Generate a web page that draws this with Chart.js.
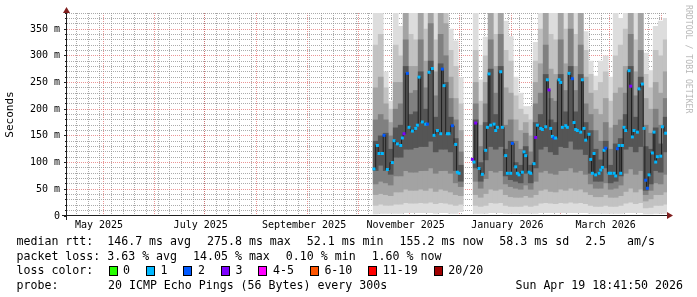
<!DOCTYPE html>
<html>
<head>
<meta charset="utf-8">
<script src="https://cdn.jsdelivr.net/npm/chart.js@4.4.1/dist/chart.umd.min.js"></script>
<style>
  html, body { margin: 0; padding: 0; background: #fff; }
  #wrap { position: relative; width: 697px; height: 297px; overflow: hidden; }
  #chart { position: absolute; left: 0; top: 0; }
  .txt { position: absolute; font-family: 'DejaVu Sans Mono', monospace; font-size: 11.6px; line-height: 14px; white-space: pre; color: #000; }
  .box { position: absolute; width: 7px; height: 8px; border: 1px solid #000; }
  #mark { position: absolute; left: 694px; top: 5px; transform: rotate(90deg); transform-origin: 0 0;
          font-family: 'DejaVu Sans Mono', monospace; font-size: 8.2px; line-height: 10px; color: #b8b8b8; white-space: pre; }
</style>
</head>
<body>
<div id="wrap">
  <canvas id="chart" width="697" height="297"></canvas>
  <div id="legend"></div>
  <div id="mark">RRDTOOL / TOBI OETIKER</div>
</div>
<script>
// graph window: last 360 days up to the timestamp printed in the footer
const startTime = Date.parse('2025-04-24T18:41:50Z');
const endTime = Date.parse('2026-04-19T18:41:50Z');

const yTicks = [0, 50, 100, 150, 200, 250, 300, 350];
const yMax = 380;

const monthGrid = ['2025-05-01', '2025-06-01', '2025-07-01', '2025-08-01', '2025-09-01', '2025-10-01',
    '2025-11-01', '2025-12-01', '2026-01-01', '2026-02-01', '2026-03-01', '2026-04-01'];
const labelDates = ['2025-05-14', '2025-07-14', '2025-09-14', '2025-11-14', '2026-01-14', '2026-03-14'];
const monthLabels = ['May 2025', 'July 2025', 'September 2025', 'November 2025', 'January 2026', 'March 2026'];

// median rtt (ms) and lost pings (of 20) per day
const medianDates = [
    '2025-10-26', '2025-10-28', '2025-10-29', '2025-10-31', '2025-11-01', '2025-11-03', '2025-11-06', '2025-11-07',
    '2025-11-09', '2025-11-11', '2025-11-12', '2025-11-13', '2025-11-15', '2025-11-16', '2025-11-18', '2025-11-20',
    '2025-11-21', '2025-11-22', '2025-11-24', '2025-11-26', '2025-11-27', '2025-11-28', '2025-11-30', '2025-12-01',
    '2025-12-03', '2025-12-05', '2025-12-06', '2025-12-07', '2025-12-09', '2025-12-10', '2025-12-12', '2025-12-14',
    '2025-12-15', '2025-12-16', '2025-12-20',
    '2025-12-24', '2025-12-25', '2025-12-26', '2025-12-28', '2025-12-30', '2026-01-01', '2026-01-02', '2026-01-03',
    '2026-01-04', '2026-01-06', '2026-01-07', '2026-01-08', '2026-01-10', '2026-01-11', '2026-01-13', '2026-01-14',
    '2026-01-16', '2026-01-17', '2026-01-19', '2026-01-20', '2026-01-21', '2026-01-23', '2026-01-24', '2026-01-25',
    '2026-01-27', '2026-01-28', '2026-01-30', '2026-01-31', '2026-02-01', '2026-02-03', '2026-02-04', '2026-02-06',
    '2026-02-07', '2026-02-08', '2026-02-09', '2026-02-10', '2026-02-11', '2026-02-12', '2026-02-14', '2026-02-15',
    '2026-02-16', '2026-02-18', '2026-02-19', '2026-02-20', '2026-02-22', '2026-02-23', '2026-02-24', '2026-02-25',
    '2026-02-27', '2026-02-28', '2026-03-01', '2026-03-02', '2026-03-04', '2026-03-05', '2026-03-06', '2026-03-07',
    '2026-03-08', '2026-03-10', '2026-03-11', '2026-03-12', '2026-03-13', '2026-03-14', '2026-03-16', '2026-03-17',
    '2026-03-19', '2026-03-20', '2026-03-21', '2026-03-22', '2026-03-23', '2026-03-24', '2026-03-25', '2026-03-26',
    '2026-03-28', '2026-03-29', '2026-03-30', '2026-03-31', '2026-04-02', '2026-04-03', '2026-04-05', '2026-04-06',
    '2026-04-07', '2026-04-08', '2026-04-09', '2026-04-11', '2026-04-12', '2026-04-13', '2026-04-14', '2026-04-16',
    '2026-04-17', '2026-04-19'];
const medianMs = [
    88, 132, 117, 117, 151, 87, 100, 141,
    135, 132, 146, 154, 267, 166, 159, 164,
    170, 260, 176, 172, 172, 269, 276, 151,
    160, 154, 275, 244, 154, 154, 169, 134,
    82, 80, null,
    106, 101, 174, 89, 78, 123, 166, 266,
    170, 172, 160, 166, 270, 166, 113, 80,
    80, 136, 92, 80, 77, 82, 120, 113,
    82, 80, 98, 147, 170, 164, 162, 167,
    255, 236, 164, 149, 146, 146, 255, 250,
    166, 169, 166, 267, 257, 175, 162, 160,
    157, 255, 164, 142, 153, 106, 80, 117,
    77, 80, 86, 91, 123, 127, 80, 80,
    80, 75, 126, 132, 80, 132, 166, 160,
    272, 243, 148, 160, 157, 238, 247, 164,
    67, 52, 77, 118, 157, 101, 111, 112,
    167, 155];
const medianLoss = [
    1, 1, 1, 1, 2, 1, 1, 1,
    1, 1, 1, 3, 2, 1, 1, 1,
    1, 1, 1, 1, 2, 1, 1, 1,
    1, 1, 2, 1, 1, 1, 2, 1,
    1, 1, 0,
    3, 1, 3, 1, 1, 1, 1, 1,
    1, 1, 1, 1, 1, 1, 1, 1,
    1, 2, 1, 1, 1, 1, 1, 1,
    1, 1, 1, 3, 1, 1, 1, 1,
    1, 3, 1, 1, 2, 1, 1, 1,
    1, 1, 1, 1, 2, 1, 1, 1,
    1, 1, 1, 1, 1, 1, 1, 1,
    1, 1, 1, 1, 1, 2, 1, 1,
    1, 1, 2, 1, 1, 1, 1, 1,
    1, 3, 1, 1, 1, 1, 1, 1,
    2, 2, 1, 1, 1, 1, 1, 1,
    1, 1];

// smoke: spread of the 20 pings as nested ranges (ms), outer to inner, one column per 3 days
const smokeDates = [
    '2025-10-27', '2025-10-30', '2025-11-02', '2025-11-05', '2025-11-08', '2025-11-11', '2025-11-14', '2025-11-17',
    '2025-11-20', '2025-11-23', '2025-11-26', '2025-11-29', '2025-12-02', '2025-12-05', '2025-12-08', '2025-12-11',
    '2025-12-14', '2025-12-17', '2025-12-20', '2025-12-23', '2025-12-26', '2025-12-29', '2026-01-01', '2026-01-04',
    '2026-01-07', '2026-01-10', '2026-01-13', '2026-01-16', '2026-01-19', '2026-01-22', '2026-01-25', '2026-01-28',
    '2026-01-31', '2026-02-03', '2026-02-06', '2026-02-09', '2026-02-12', '2026-02-15', '2026-02-18', '2026-02-21',
    '2026-02-24', '2026-02-27', '2026-03-02', '2026-03-05', '2026-03-08', '2026-03-11', '2026-03-14', '2026-03-17',
    '2026-03-20', '2026-03-23', '2026-03-26', '2026-03-29', '2026-04-01', '2026-04-04', '2026-04-07', '2026-04-10',
    '2026-04-13', '2026-04-16', '2026-04-19'];
const smokeLo1 = [4, 5, 5, 5, 5, 5, 6, 6, 6, 6, 6, 6, 5, 6, 6, 5, 5, 8, null, null,
    5, 5, 5, 6, 6, 6, 5, 5, 5, 5, 5, 5, 5, 6, 6, 6, 6, 6, 6, 6,
    6, 6, 6, 5, 5, 5, 5, 5, 5, 5, 6, 6, 6, 6, 4, 4, 5, 5, 5];
const smokeLo2 = [20, 22, 20, 20, 22, 22, 25, 24, 24, 25, 24, 26, 23, 25, 24, 22, 20, 22, null, null,
    20, 18, 20, 25, 24, 25, 20, 18, 18, 18, 20, 18, 20, 24, 25, 24, 23, 25, 24, 26,
    24, 25, 23, 20, 18, 18, 20, 18, 18, 20, 24, 26, 23, 25, 15, 16, 20, 20, 22];
const smokeLo3 = [40, 42, 40, 38, 45, 45, 50, 48, 48, 50, 48, 52, 46, 50, 48, 45, 40, 38, null, null,
    40, 35, 42, 50, 48, 50, 40, 36, 35, 35, 38, 35, 40, 48, 50, 46, 45, 50, 48, 52,
    48, 50, 45, 40, 36, 36, 40, 35, 35, 38, 46, 52, 45, 50, 28, 32, 40, 40, 45];
const smokeLo4 = [60, 65, 62, 58, 75, 75, 85, 82, 82, 85, 85, 90, 80, 85, 85, 80, 62, 55, null, null,
    65, 52, 70, 85, 82, 85, 60, 55, 52, 50, 58, 50, 65, 82, 85, 80, 78, 85, 85, 90,
    82, 85, 78, 60, 52, 52, 62, 50, 52, 58, 80, 88, 78, 85, 40, 48, 62, 60, 78];
const smokeLo5 = [85, 95, 85, 78, 110, 110, 125, 125, 128, 130, 130, 140, 120, 125, 125, 120, 85, 65, null, null,
    90, 65, 105, 130, 125, 130, 75, 68, 65, 62, 80, 62, 90, 125, 130, 120, 115, 130, 128, 140,
    125, 125, 115, 80, 65, 65, 90, 62, 65, 75, 125, 130, 120, 130, 48, 60, 85, 82, 120];
const smokeHi5 = [140, 150, 155, 125, 165, 170, 280, 190, 195, 270, 200, 290, 185, 285, 250, 185, 145, 95, null, null,
    180, 100, 175, 275, 190, 280, 125, 140, 100, 95, 130, 95, 175, 190, 265, 180, 175, 265, 195, 280,
    195, 265, 175, 160, 125, 105, 140, 95, 135, 145, 190, 280, 185, 260, 130, 125, 165, 135, 185];
const smokeHi4 = [180, 190, 180, 150, 200, 210, 330, 230, 235, 330, 240, 360, 225, 340, 300, 220, 180, 120, null, null,
    210, 130, 210, 330, 230, 340, 170, 180, 140, 125, 155, 120, 210, 230, 320, 220, 215, 330, 235, 350,
    235, 320, 210, 190, 160, 140, 175, 125, 170, 180, 230, 340, 225, 310, 170, 155, 200, 170, 220];
const smokeHi3 = [240, 260, 210, 175, 250, 250, 400, 280, 280, 400, 290, 400, 270, 400, 360, 260, 220, 160, null, null,
    250, 170, 250, 400, 280, 400, 240, 230, 180, 160, 175, 150, 250, 285, 400, 275, 265, 400, 285, 400,
    280, 400, 260, 230, 200, 190, 220, 165, 230, 240, 280, 400, 270, 400, 220, 200, 250, 230, 270];
const smokeHi2 = [320, 340, 240, 200, 320, 300, 400, 340, 330, 400, 350, 400, 330, 400, 400, 310, 280, 210, null, null,
    310, 215, 300, 400, 340, 400, 310, 290, 225, 200, 190, 180, 290, 350, 400, 340, 330, 400, 350, 400,
    340, 400, 310, 265, 235, 250, 270, 215, 300, 320, 350, 400, 330, 400, 265, 240, 310, 300, 330];
const smokeHi1 = [400, 400, 270, 215, 400, 355, 400, 400, 380, 400, 400, 400, 400, 400, 400, 350, 328, 259, null, null,
    380, 255, 335, 400, 400, 400, 365, 336, 260, 230, 205, 205, 325, 400, 400, 400, 390, 400, 400, 400,
    395, 400, 345, 290, 262, 290, 300, 260, 380, 370, 390, 400, 385, 400, 305, 272, 355, 365, 370];

const smokeColors = ['#555555', '#808080', '#a3a3a3', '#c2c2c2', '#dddddd'];

const lossNames = ['0', '1', '2', '3', '4-5', '6-10', '11-19', '20/20'];
const lossColors = ['#26ff00', '#00b8ff', '#0059ff', '#7e00ff', '#ff00ff', '#ff5500', '#ff0000', '#a00000'];

// legend lines, one entry per printed item
const statsItems = ['median rtt:  146.7 ms avg', '275.8 ms max', '52.1 ms min', '155.2 ms now', '58.3 ms sd', '2.5   am/s'];
const lossItems = ['packet loss: 3.63 % avg', '14.05 % max', '0.10 % min', '1.60 % now'];
const probeText = '20 ICMP Echo Pings (56 Bytes) every 300s';
const stampText = 'Sun Apr 19 18:41:50 2026';

const AXIS = '#1f1f1f';
const ARROW = '#801f1f';
const GRID = 'rgba(143,143,143,0.75)';
const MGRID = 'rgba(222,79,79,0.6)';

Chart.defaults.font.family = "'DejaVu Sans Mono', monospace";
Chart.defaults.color = '#000';

function lossColor(n) {
    if (n <= 3) return lossColors[n];
    if (n <= 5) return lossColors[4];
    if (n <= 10) return lossColors[5];
    if (n <= 19) return lossColors[6];
    return lossColors[7];
}

function smokeSet(lo, hi, color) {
    return {
        type: 'bar',
        data: smokeDates.map((d, i) => ({x: Date.parse(d), y: lo[i] === null ? null : [lo[i], hi[i]]})),
        backgroundColor: color,
        borderWidth: 0,
        barThickness: 'flex',
        categoryPercentage: 1,
        barPercentage: 1,
        stack: 'smoke'
    };
}

function fixedTicks(values) {
    return scale => { scale.ticks = values.map(v => ({value: v})); };
}

const weekGrid = [];
for (let t = Date.parse('2025-04-27'); t < endTime; t += 7 * 86400000) weekGrid.push(t);
const yMinorGrid = [];
for (let v = 10; v <= yMax; v += 10) if (v % 50) yMinorGrid.push(v);

const axesPlugin = {
    id: 'axes',
    afterDraw(chart) {
        const {ctx, chartArea: a} = chart;
        const x0 = a.left - 0.5, y0 = a.bottom - 0.5;
        ctx.save();
        ctx.strokeStyle = AXIS;
        ctx.lineWidth = 1;
        ctx.beginPath();
        ctx.moveTo(x0, a.top - 2);
        ctx.lineTo(x0, a.bottom + 4);
        ctx.moveTo(a.left - 5, y0);
        ctx.lineTo(a.right + 1, y0);
        ctx.stroke();
        ctx.fillStyle = ARROW;
        ctx.beginPath();
        ctx.moveTo(x0, a.top - 6);
        ctx.lineTo(x0 - 3.5, a.top);
        ctx.lineTo(x0 + 3.5, a.top);
        ctx.closePath();
        ctx.fill();
        ctx.beginPath();
        ctx.moveTo(a.right + 6, y0);
        ctx.lineTo(a.right, y0 - 3.5);
        ctx.lineTo(a.right, y0 + 3.5);
        ctx.closePath();
        ctx.fill();
        ctx.restore();
    }
};

new Chart(document.getElementById('chart'), {
    type: 'bar',
    data: {
        datasets: [
            {
                type: 'line',
                data: medianDates.map((d, i) => ({x: Date.parse(d), y: medianMs[i]})),
                borderColor: '#202020',
                borderWidth: 1,
                stepped: 'middle',
                spanGaps: false,
                pointStyle: 'rect',
                pointRadius: 2.1,
                pointBorderWidth: 0,
                pointBackgroundColor: medianLoss.map(lossColor)
            },
            smokeSet(smokeLo5, smokeHi5, smokeColors[0]),
            smokeSet(smokeLo4, smokeHi4, smokeColors[1]),
            smokeSet(smokeLo3, smokeHi3, smokeColors[2]),
            smokeSet(smokeLo2, smokeHi2, smokeColors[3]),
            smokeSet(smokeLo1, smokeHi1, smokeColors[4])
        ]
    },
    options: {
        responsive: false,
        animation: false,
        events: [],
        layout: {padding: {left: 0, right: 30, top: 13, bottom: 0}},
        plugins: {
            legend: {display: false},
            tooltip: {enabled: false}
        },
        scales: {
            x: {
                type: 'linear',
                min: startTime,
                max: endTime,
                offset: false,
                weight: 1,
                afterBuildTicks: fixedTicks(labelDates.map(d => Date.parse(d))),
                afterFit: scale => { scale.height = 81; },
                grid: {display: false, drawTicks: false, offset: false},
                border: {display: false},
                ticks: {
                    autoSkip: false,
                    maxRotation: 0,
                    padding: 3,
                    font: {size: 10},
                    callback: (v, i) => monthLabels[i]
                }
            },
            xWeek: {
                type: 'linear',
                position: 'bottom',
                min: startTime,
                max: endTime,
                offset: false,
                weight: 0,
                z: 1,
                afterBuildTicks: fixedTicks(weekGrid),
                afterFit: scale => { scale.height = 0; },
                grid: {color: GRID, drawTicks: false},
                border: {display: false, dash: [1, 1]},
                ticks: {display: false}
            },
            xMonth: {
                type: 'linear',
                position: 'bottom',
                min: startTime,
                max: endTime,
                offset: false,
                weight: 0,
                z: 2,
                afterBuildTicks: fixedTicks(monthGrid.map(d => Date.parse(d))),
                afterFit: scale => { scale.height = 0; },
                grid: {color: MGRID, drawTicks: false},
                border: {display: false, dash: [1, 1]},
                ticks: {display: false}
            },
            y: {
                min: 0,
                max: yMax,
                stacked: false,
                weight: 1,
                z: 2,
                afterBuildTicks: fixedTicks(yTicks),
                afterFit: scale => { scale.width = 67; },
                grid: {
                    color: c => c.tick && c.tick.value === 0 ? 'rgba(0,0,0,0)' : MGRID,
                    tickColor: AXIS,
                    tickLength: 3
                },
                border: {display: false, dash: [1, 1]},
                title: {display: true, text: 'Seconds', font: {size: 11}, padding: {top: 4, bottom: 0}},
                ticks: {
                    padding: 4,
                    font: {size: 10},
                    callback: v => v === 0 ? '0' : v + ' m'
                }
            },
            yMinor: {
                position: 'left',
                min: 0,
                max: yMax,
                weight: 0,
                z: 1,
                afterBuildTicks: fixedTicks(yMinorGrid),
                afterFit: scale => { scale.width = 0; },
                grid: {color: GRID, tickColor: AXIS, tickLength: 2},
                border: {display: false, dash: [1, 1]},
                ticks: {display: false}
            }
        }
    },
    plugins: [axesPlugin]
});

// text legend under the graph; items on a line are 16px apart like rrdtool's legend
const ITEM_GAP = 16;
const legend = document.getElementById('legend');
function addText(text, left, top) {
    const el = document.createElement('div');
    el.className = 'txt';
    el.textContent = text;
    el.style.left = left + 'px';
    el.style.top = top + 'px';
    legend.appendChild(el);
    return el;
}
function addRow(items, left, top) {
    let x = left;
    items.forEach(t => {
        const el = addText(t, x, top);
        x += el.getBoundingClientRect().width + ITEM_GAP;
    });
}
addRow(statsItems, 16.5, 234);
addRow(lossItems, 16.5, 249);
addText('loss color:', 16.5, 263);
let bx = 108.5;
lossNames.forEach((name, i) => {
    const b = document.createElement('div');
    b.className = 'box';
    b.style.left = bx + 'px';
    b.style.top = '266px';
    b.style.background = lossColors[i];
    legend.appendChild(b);
    const el = addText(name, bx + 14.5, 263);
    bx += 14.5 + el.getBoundingClientRect().width + ITEM_GAP;
});
addText('probe:', 16.5, 278);
addText(probeText, 108, 278);
const stamp = addText(stampText, 0, 278);
stamp.style.left = (683 - stamp.getBoundingClientRect().width) + 'px';
</script>
</body>
</html>
